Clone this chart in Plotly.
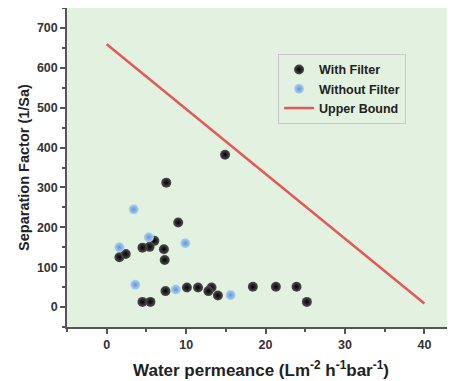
import plotly.graph_objects as go

with_x = [14.9, 7.5, 9.0, 6.0, 5.4, 4.5, 7.2, 7.3, 1.6, 2.4, 7.4, 10.1, 11.5, 13.2, 12.8, 14.0, 18.4, 21.3, 23.9, 25.2, 4.5, 5.5]
with_y = [382, 312, 212, 166, 151, 149, 145, 118, 125, 133, 40, 49, 49, 49, 40, 29, 51, 51, 51, 13, 13, 13]
without_x = [3.4, 5.3, 1.6, 9.9, 3.6, 8.7, 15.6]
without_y = [245, 175, 150, 160, 56, 44, 30]
bound_x = [0, 40]
bound_y = [659, 9]

fig = go.Figure()
fig.add_trace(go.Scatter(x=with_x, y=with_y, mode="markers", name="With Filter",
                         marker=dict(size=10, color="#505050",
                                     gradient=dict(type="radial", color="#000000"),
                                     line=dict(width=0))))
fig.add_trace(go.Scatter(x=without_x, y=without_y, mode="markers", name="Without Filter",
                         marker=dict(size=10, color="#B3D3F1",
                                     gradient=dict(type="radial", color="#5B97D6"),
                                     line=dict(width=0))))
fig.add_trace(go.Scatter(x=bound_x, y=bound_y, mode="lines", name="Upper Bound",
                         line=dict(color="#E5585A", width=2.5)))

tick_font = dict(family="Liberation Sans", size=12.5, color="#333333", weight="bold")
fig.update_layout(
    width=447, height=373,
    margin=dict(l=59, r=0, t=0, b=54, autoexpand=False),
    paper_bgcolor="white",
    plot_bgcolor="#E3F1E0",
    font=dict(family="Liberation Sans", color="#222222"),
    showlegend=True,
    legend=dict(x=0.544, y=0.856, xanchor="left", yanchor="top",
                bgcolor="rgba(255,255,255,0)", bordercolor="#C8C8C8", borderwidth=1,
                font=dict(family="Liberation Sans", size=12.5, color="#222222", weight="bold"),
                tracegroupgap=0, itemwidth=30),
    xaxis=dict(range=[-5, 43.85], tickvals=[0, 10, 20, 30, 40], ticks="outside",
               ticklen=5, tickwidth=1.5, tickcolor="#555555", automargin=False,
               minor=dict(tickvals=[-5, 5, 15, 25, 35], ticks="outside", ticklen=3, tickcolor="#555555"),
               showline=True, linecolor="#555555", linewidth=1.5, showgrid=False, zeroline=False,
               tickfont=tick_font,
               title=dict(text="Water permeance (Lm<sup>-2</sup> h<sup>-1</sup>bar<sup>-1</sup>)",
                          font=dict(family="Liberation Sans", size=17, color="#222222", weight="bold"),
                          standoff=13)),
    yaxis=dict(range=[-50, 750], tickvals=[0, 100, 200, 300, 400, 500, 600, 700], ticks="outside",
               ticklen=5, tickwidth=1.5, tickcolor="#555555", automargin=False,
               minor=dict(tickvals=[-50, 50, 150, 250, 350, 450, 550, 650, 750], ticks="outside", ticklen=3, tickcolor="#555555"),
               showline=True, linecolor="#555555", linewidth=1.5, showgrid=False, zeroline=False,
               tickfont=tick_font,
               title=dict(text="Separation Factor (1/Sa)",
                          font=dict(family="Liberation Sans", size=14.5, color="#222222", weight="bold"),
                          standoff=4)),
)
fig.write_html("out.html")
